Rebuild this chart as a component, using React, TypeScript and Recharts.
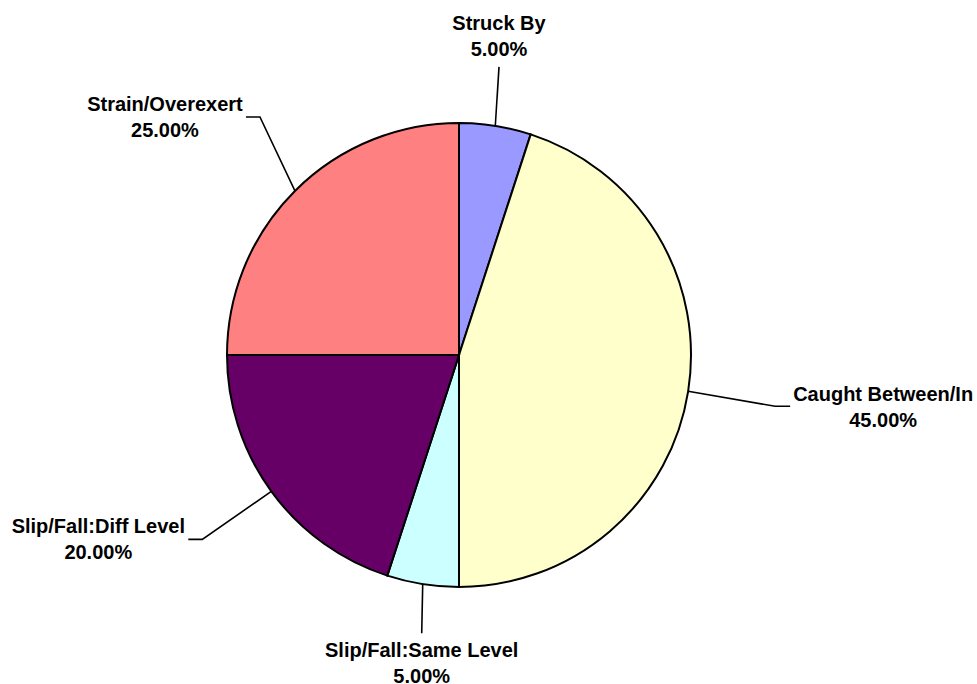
import React from "react";
import { PieChart, Pie, Cell } from "recharts";

const categories = [
  "Struck By",
  "Caught Between/In",
  "Slip/Fall:Same Level",
  "Slip/Fall:Diff Level",
  "Strain/Overexert",
];
const values = [5, 45, 5, 20, 25];
const colors = ["#9999FF", "#FFFFCC", "#CCFFFF", "#660066", "#FF8080"];

// label leader layout: elbow offset from slice edge, horizontal tail, text offset from tail end
const labelLayout = [
  { ex: 3.7, ey: -59, tail: 0, tx: 0, ty: -37 },
  { ex: 87, ey: 15, tail: 15, tx: 93, ty: -5 },
  { ex: -1, ey: 49, tail: 0, tx: 0, ty: 24 },
  { ex: -69, ey: 48, tail: -14, tx: -90, ty: -6 },
  { ex: -35, ey: -74, tail: -14, tx: -81, ty: -6 },
];

const data = categories.map((name, i) => ({ name, value: values[i] }));
const total = values.reduce((a, b) => a + b, 0);

const RAD = Math.PI / 180;

const renderLabel = (props: any) => {
  const { cx, cy, midAngle, outerRadius, index } = props;
  const L = labelLayout[index];
  const x0 = cx + outerRadius * Math.cos(-midAngle * RAD);
  const y0 = cy + outerRadius * Math.sin(-midAngle * RAD);
  const x1 = x0 + L.ex;
  const y1 = y0 + L.ey;
  const x2 = x1 + L.tail;
  const y2 = y1;
  const tx = x2 + L.tx;
  const ty = y2 + L.ty;
  const pct = ((values[index] / total) * 100).toFixed(2) + "%";
  return (
    <g key={`lbl-${index}`}>
      <polyline
        points={`${x0},${y0} ${x1},${y1} ${x2},${y2}`}
        fill="none"
        stroke="#000"
        strokeWidth={1.6}
      />
      <text
        x={tx}
        y={ty}
        textAnchor="middle"
        fontFamily="'Liberation Sans', Arial, sans-serif"
        fontWeight="bold"
        fontSize={20}
        fill="#000"
      >
        <tspan x={tx} y={ty}>{categories[index]}</tspan>
        <tspan x={tx} y={ty + 26}>{pct}</tspan>
      </text>
    </g>
  );
};

export default function App() {
  return (
    <div style={{ width: 977, height: 684, background: "#fff" }}>
      <style>{`body{margin:0;}`}</style>
      <PieChart
        width={977}
        height={684}
        margin={{ top: 0, right: 0, bottom: 0, left: 0 }}
      >
        <Pie
          data={data}
          dataKey="value"
          nameKey="name"
          cx={459}
          cy={355}
          outerRadius={232}
          startAngle={90}
          endAngle={-270}
          stroke="#000"
          strokeWidth={2}
          label={renderLabel}
          labelLine={false}
          isAnimationActive={false}
        >
          {data.map((d, i) => (
            <Cell key={d.name} fill={colors[i]} />
          ))}
        </Pie>
      </PieChart>
    </div>
  );
}
